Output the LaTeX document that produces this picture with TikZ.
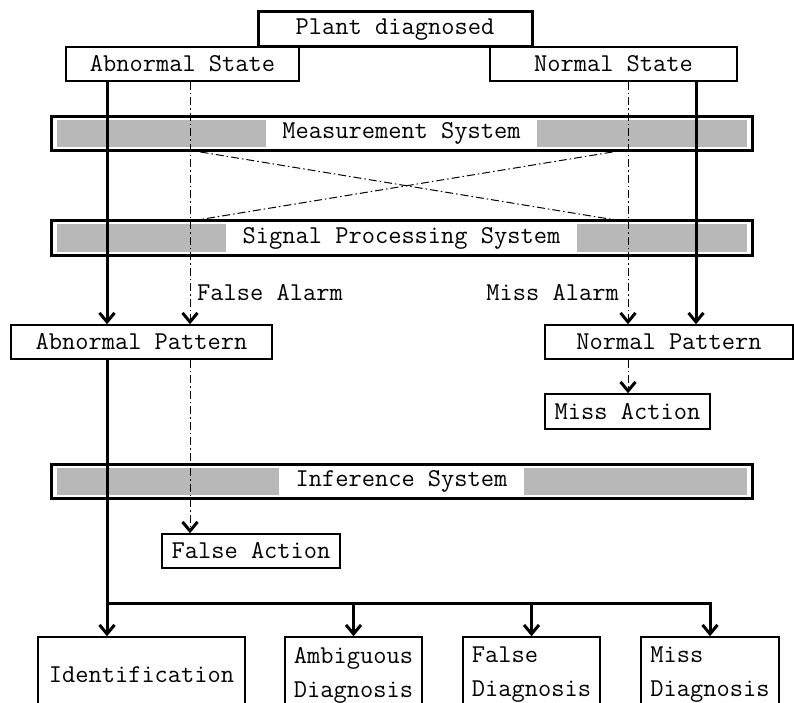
\documentclass[tikz,border=0pt]{standalone}
\usepackage{fontspec}
\usetikzlibrary{arrows.meta,calc}

\begin{document}
\begin{tikzpicture}[x=1pt,y=-1pt,
    font=\fontsize{25.7}{34}\selectfont\ttfamily,
    >={Straight Barb[length=9pt,width=15pt,line width=3pt]},
    box/.style={draw,line width=1.5pt,inner sep=0pt,minimum height=34pt},
    headbox/.style={box,line width=3pt},
    sysbox/.style={draw,line width=3pt,minimum width=701pt,minimum height=34pt,inner sep=0pt},
    dots/.style={fill=black!28},
    flow/.style={line width=3pt},
    dashdot/.style={line width=1pt,dash pattern=on 8pt off 3pt on 1.5pt off 3pt},
    outbox/.style={box,minimum height=76pt,align=left}]
    \useasboundingbox (0,0) rectangle (794,703);
    \clip (0,0) rectangle (794,703);

    % columns of the flow lines
    \coordinate (colA) at (107,0);
    \coordinate (colB) at (190,0);
    \coordinate (colC) at (628,0);
    \coordinate (colD) at (696,0);

    \node[box,minimum width=233pt] (abst) at (182.5,64) {Abnormal State};
    \node[box,minimum width=247pt] (nost) at (613.5,64) {Normal State};
    \node[headbox,minimum width=274pt,minimum height=35pt] (plant) at (395,29.5) {Plant diagnosed};

    % the three systems
    \foreach \nm/\y/\txt in {meas/133.5/Measurement System, sig/238/Signal Processing System, inf/481/Inference System} {
        \node[sysbox] (\nm) at (401.5,\y) {};
        \node[inner sep=0pt] (\nm txt) at (\nm) {\txt};
        \fill[dots] ($(\nm.north west)+(7,5)$) rectangle ($(\nm txt.west |- \nm.south)+(-16,-5)$);
        \fill[dots] ($(\nm txt.east |- \nm.north)+(16,5)$) rectangle ($(\nm.south east)+(-7,-5)$);
    }
    \draw[dashdot] ([xshift=-201pt]meas.south) -- ([xshift=211pt]sig.north);
    \draw[dashdot] ([xshift=211pt]meas.south) -- ([xshift=-201pt]sig.north);

    \node[box,minimum width=261pt] (abpat) at (141.5,342) {Abnormal Pattern};
    \node[box,minimum width=248pt] (nopat) at (669,342) {Normal Pattern};
    \node[box,minimum width=165pt,minimum height=35pt] (missact) at (627.5,411.5) {Miss Action};
    \node[box,minimum width=178pt] (falseact) at (251,551) {False Action};
    \node[anchor=west,inner sep=0pt] (falarm) at (197,293) {False Alarm};
    \node[anchor=east,inner sep=0pt] (malarm) at (619,293) {Miss Alarm};

    \draw[flow,->] (abst.south -| colA) -- (abpat.north -| colA);
    \draw[flow,->] (nost.south -| colD) -- (nopat.north -| colD);
    \draw[dashdot,->] (abst.south -| colB) -- (abpat.north -| colB);
    \draw[dashdot,->] (nost.south -| colC) -- (nopat.north -| colC);
    \draw[dashdot,->] (abpat.south -| colB) -- (falseact.north -| colB);
    \draw[dashdot,->] (nopat.south -| colC) -- (missact.north -| colC);

    % diagnosis results
    \node[outbox,minimum width=207pt] (ident) at (141.5,675) {Identification};
    \node[outbox,minimum width=137pt] (ambig) at (353.5,675) {Ambiguous\\Diagnosis};
    \node[outbox,minimum width=137pt] (fdiag) at (531.5,675) {False\\Diagnosis};
    \node[outbox,minimum width=138pt] (mdiag) at (710,675) {Miss\\Diagnosis};

    \coordinate (split) at (107,603);
    \draw[flow,->] (abpat.south -| split) -- (ident.north -| split);
    \draw[flow,->] (split) -- (split -| mdiag.north) -- (mdiag.north);
    \draw[flow,->] (split -| ambig.north) -- (ambig.north);
    \draw[flow,->] (split -| fdiag.north) -- (fdiag.north);
\end{tikzpicture}
\end{document}
